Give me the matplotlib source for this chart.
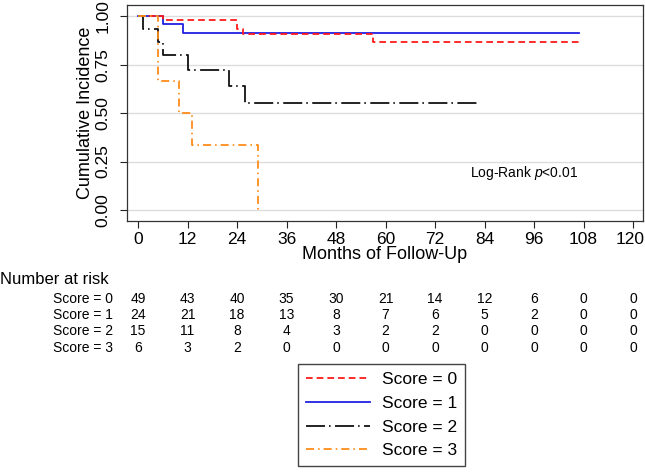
import matplotlib
matplotlib.use("Agg")
import matplotlib.pyplot as plt
import matplotlib.transforms as mtransforms
from matplotlib.lines import Line2D

plt.rcParams['font.family'] = ['Liberation Sans', 'DejaVu Sans']
plt.rcParams['lines.scale_dashes'] = False
plt.rcParams['mathtext.fontset'] = 'custom'
plt.rcParams['mathtext.rm'] = 'Liberation Sans'
plt.rcParams['mathtext.it'] = 'Liberation Sans:italic'

# ---- data ----
groups = ["Score = 0", "Score = 1", "Score = 2", "Score = 3"]
t0 = [0, 6, 24, 25.5, 57, 107]
s0 = [1.0, 0.978, 0.932, 0.908, 0.867, 0.867]
t1 = [0, 6, 11, 107]
s1 = [1.0, 0.958, 0.912, 0.912]
t2 = [0, 1.1, 4.9, 6, 12, 22, 26, 82.4]
s2 = [1.0, 0.933, 0.867, 0.80, 0.72, 0.64, 0.55, 0.55]
t3 = [0, 4.9, 10, 13, 29]
s3 = [1.0, 0.667, 0.5, 0.333, 0.0]

risk_times = [0, 12, 24, 36, 48, 60, 72, 84, 96, 108, 120]
risk0 = [49, 43, 40, 35, 30, 21, 14, 12, 6, 0, 0]
risk1 = [24, 21, 18, 13, 8, 7, 6, 5, 2, 0, 0]
risk2 = [15, 11, 8, 4, 3, 2, 2, 0, 0, 0, 0]
risk3 = [6, 3, 2, 0, 0, 0, 0, 0, 0, 0, 0]

yticks = [0, 0.25, 0.5, 0.75, 1.0]
ytick_labels = ["0.00", "0.25", "0.50", "0.75", "1.00"]

W, H = 645, 472
fig = plt.figure(figsize=(W / 100, H / 100), dpi=100)
ax = fig.add_axes([127 / W, 1 - 221 / H, (643 - 127) / W, (221 - 5) / H])

styles = [
    dict(color='#FF1A1A', linestyle=(0, (4.8, 2.9))),
    dict(color='#2020E0', linestyle='-'),
    dict(color='#111111', linestyle=(0, (13.7, 2.9, 1.1, 3.2))),
    dict(color='#FF8C1A', linestyle=(0, (5.8, 2.9, 1.1, 2.9))),
]
series = [(t0, s0), (t1, s1), (t2, s2), (t3, s3)]
order = [1, 0, 2, 3]
for i in order:
    t, s = series[i]
    ax.step(t, s, where='post', linewidth=1.3, **styles[i], zorder=3)

ax.set_xlim(-2.67, 122.4)
ax.set_ylim(-0.057, 1.058)
ax.set_xticks(risk_times)
ax.set_yticks(yticks)
ax.set_yticklabels(ytick_labels, rotation=90, va='center')
ax.tick_params(axis='both', direction='out', length=5, width=0.8, colors='#222222',
               labelsize=12.5, labelcolor='black')
ax.tick_params(axis='x', pad=3)
ax.tick_params(axis='y', pad=7)
ax.grid(axis='y', color='#DDDDDD', linewidth=1.0, zorder=0)
ax.set_axisbelow(True)
for sp in ax.spines.values():
    sp.set_color('#333333')
    sp.set_linewidth(0.9)

# nudge the last x tick label so it stays inside the figure
fig.canvas.draw()
last = ax.get_xticklabels()[-1]
last.set_transform(last.get_transform() + mtransforms.ScaledTranslation(-3 / 100, 0, fig.dpi_scale_trans))

ax.set_xlabel("Months of Follow-Up", fontsize=13, labelpad=-1)
ax.set_ylabel("Cumulative Incidence", fontsize=13, labelpad=1)

fig.text(470 / W, 1 - 173.3 / H, "Log-Rank $\\it{p}$<0.01", fontsize=10, va='center', ha='left')

# number at risk table
trans = mtransforms.blended_transform_factory(ax.transData, fig.transFigure)
fig.text(0 / W, 1 - 280 / H, "Number at risk", fontsize=12, va='center', ha='left')
row_y = [299, 315, 331, 348]
for lab, vals, yy in zip(groups, [risk0, risk1, risk2, risk3], row_y):
    fig.text(113 / W, 1 - yy / H, lab, fontsize=10, va='center', ha='right')
    for x, v in zip(risk_times, vals):
        ax.text(x, 1 - yy / H, str(v), transform=trans, fontsize=10, va='center',
                ha='center', clip_on=False)

# legend
handles = [Line2D([], [], linewidth=1.3, **styles[i]) for i in range(4)]
leg = fig.legend(handles, groups, loc='upper left', bbox_to_anchor=(298 / W, 1 - 364 / H),
                 bbox_transform=fig.transFigure, borderaxespad=0, fontsize=12.5,
                 handlelength=3.7, handletextpad=0.7, labelspacing=0.5,
                 fancybox=False, framealpha=1, edgecolor='#444444', borderpad=0.45)
leg.get_frame().set_linewidth(1.0)

fig.savefig("out.png", dpi=100)
